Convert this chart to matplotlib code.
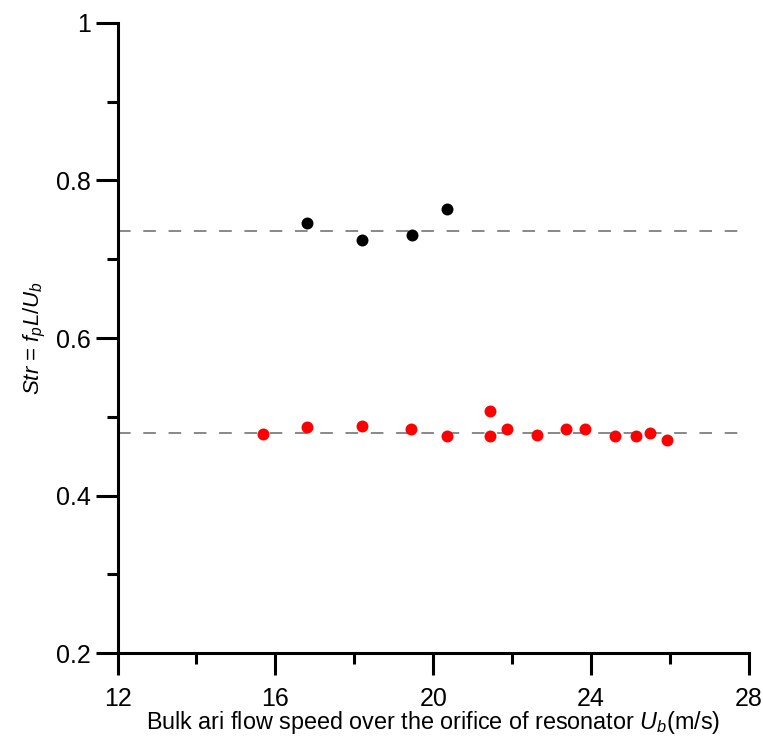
import matplotlib.pyplot as plt
from matplotlib.ticker import MultipleLocator

plt.rcParams['font.family'] = 'Liberation Sans'
plt.rcParams['mathtext.fontset'] = 'custom'
plt.rcParams['mathtext.rm'] = 'Liberation Sans'
plt.rcParams['mathtext.it'] = 'Liberation Sans:italic'

# first mode (upper branch)
ub_1 = [16.80, 18.20, 19.45, 20.36]
str_1 = [0.7455, 0.7240, 0.7307, 0.7637]
mean_1 = 0.7358

# second mode (lower branch)
ub_2 = [15.69, 16.80, 18.20, 19.44, 20.35, 21.44, 21.44, 21.86,
        22.64, 23.36, 23.84, 24.60, 25.13, 25.48, 25.93]
str_2 = [0.4780, 0.4875, 0.4888, 0.4842, 0.4761, 0.5078, 0.4753, 0.4842,
         0.4773, 0.4842, 0.4842, 0.4761, 0.4761, 0.4791, 0.4706]
mean_2 = 0.4791

fig = plt.figure(figsize=(7.63, 7.38), dpi=100)
ax = fig.add_axes([0.154, 0.1148, 0.8277, 0.8544])

ax.axhline(mean_1, color='#7f7f7f', lw=1.3, dashes=(7, 7))
ax.axhline(mean_2, color='#7f7f7f', lw=1.3, dashes=(7, 7))
ax.plot(ub_1, str_1, 'o', color='black', ms=8.6, mew=0, zorder=3)
ax.plot(ub_2, str_2, 'o', color='red', ms=8.6, mew=0, zorder=3)

ax.set_xlim(12, 28)
ax.set_ylim(0.2, 1.0)
ax.xaxis.set_major_locator(MultipleLocator(4))
ax.xaxis.set_minor_locator(MultipleLocator(2))
ax.yaxis.set_major_locator(MultipleLocator(0.2))
ax.yaxis.set_minor_locator(MultipleLocator(0.1))
ax.yaxis.set_major_formatter(lambda v, p: '1' if abs(v - 1) < 1e-9 else f'{v:.1f}')

for s in ['top', 'right']:
    ax.spines[s].set_visible(False)
for s in ['left', 'bottom']:
    ax.spines[s].set_linewidth(2.2)

ax.tick_params(which='major', direction='out', length=16, width=2.2, labelsize=18)
ax.tick_params(which='minor', direction='out', length=8, width=2.2)
ax.tick_params(axis='x', which='major', pad=8)
ax.tick_params(axis='y', which='major', pad=3)

ax.set_xlabel('Bulk ari flow speed over the orifice of resonator $U_b$(m/s)',
              fontsize=16.8, labelpad=-1)
ax.set_ylabel(r'$Str$ = $f_pL\mathrm{/}U_b$', fontsize=16, labelpad=6)

fig.savefig('out.png', dpi=100)
